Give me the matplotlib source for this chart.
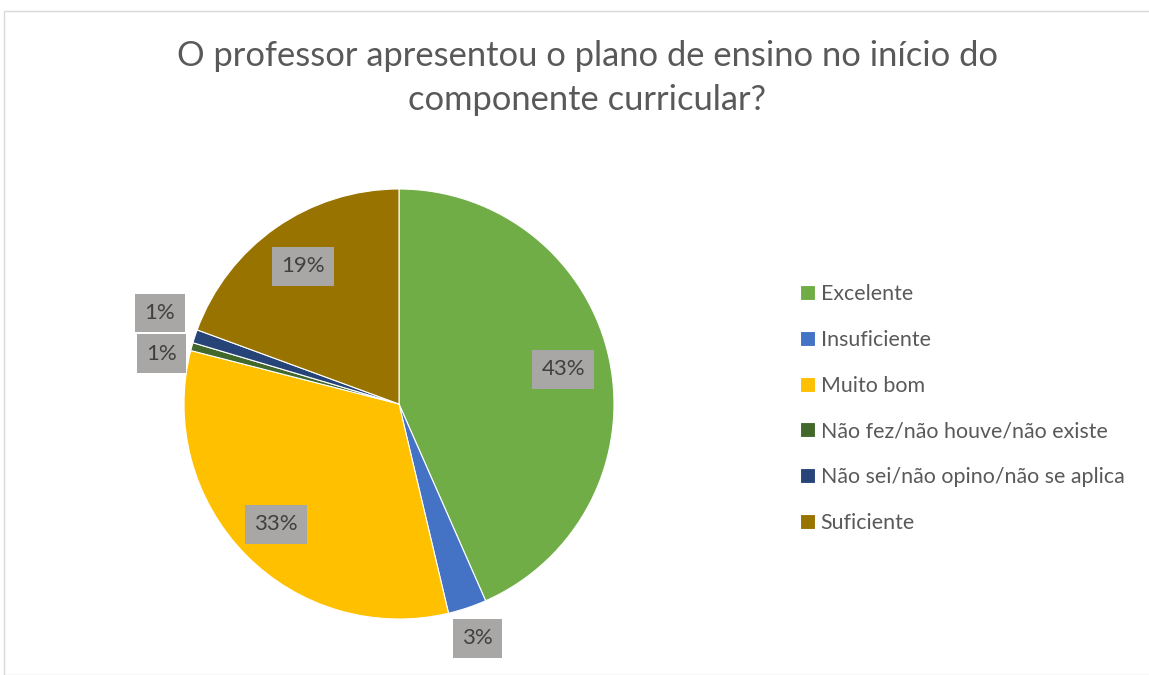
import numpy as np
import matplotlib
matplotlib.use("Agg")
import matplotlib.pyplot as plt
from matplotlib.patches import Rectangle

# data (percent of answers)
categories = ["Excelente", "Insuficiente", "Muito bom",
              "Não fez/não houve/não existe", "Não sei/não opino/não se aplica",
              "Suficiente"]
shares = [43.4, 2.9, 32.7, 0.6, 1.0, 19.4]
colors = ["#70AD47", "#4472C4", "#FFC000", "#43682B", "#264478", "#997300"]
title = "O professor apresentou o plano de ensino no início do\ncomponente curricular?"

# label placement (radius factor, angle nudge in degrees)
label_r = [0.78, 1.15, 0.80, 1.13, 1.19, 0.78]
label_nudge = [0, 0, 0, 3.5, -2.5, 0]

plt.rcParams['font.family'] = ['Lato', 'DejaVu Sans']
text_color = "#595959"

W, H = 1149, 675
fig = plt.figure(figsize=(W / 100, H / 100), dpi=100)

# chart frame
fig.patches.append(Rectangle((4 / W, 0), 1.2, (H - 11) / H, transform=fig.transFigure,
                             fill=False, edgecolor="#D9D9D9", linewidth=1.0))

cx, cy, R = 399, 404, 215
ax = fig.add_axes([(cx - R) / W, (H - cy - R) / H, 2 * R / W, 2 * R / H])
wedges, _ = ax.pie(shares, colors=colors, startangle=90, counterclock=False,
                   wedgeprops=dict(edgecolor="white", linewidth=0.8))
ax.set_aspect("equal")
ax.set_xlim(-1, 1)
ax.set_ylim(-1, 1)
ax.axis("off")

for w, val, rf, nd in zip(wedges, shares, label_r, label_nudge):
    ang = np.deg2rad((w.theta1 + w.theta2) / 2 + nd)
    ax.text(rf * np.cos(ang), rf * np.sin(ang), f"{val:.0f}%",
            ha="center", va="center", fontsize=16, color="#404040",
            bbox=dict(boxstyle="square,pad=0.42", facecolor="#A9A7A5", edgecolor="none"),
            clip_on=False)

fig.text(0.511, 1 - 78 / H, title, ha="center", va="center", fontsize=24.8,
         color=text_color, linespacing=1.5)

leg = fig.legend(wedges, categories, loc="upper left", bbox_to_anchor=(781 / W, 1 - 265 / H),
                 frameon=False, fontsize=15.4, handlelength=0.7, handleheight=0.7,
                 handletextpad=0.25, labelspacing=1.2, labelcolor=text_color)

fig.savefig("out.png", dpi=100)
